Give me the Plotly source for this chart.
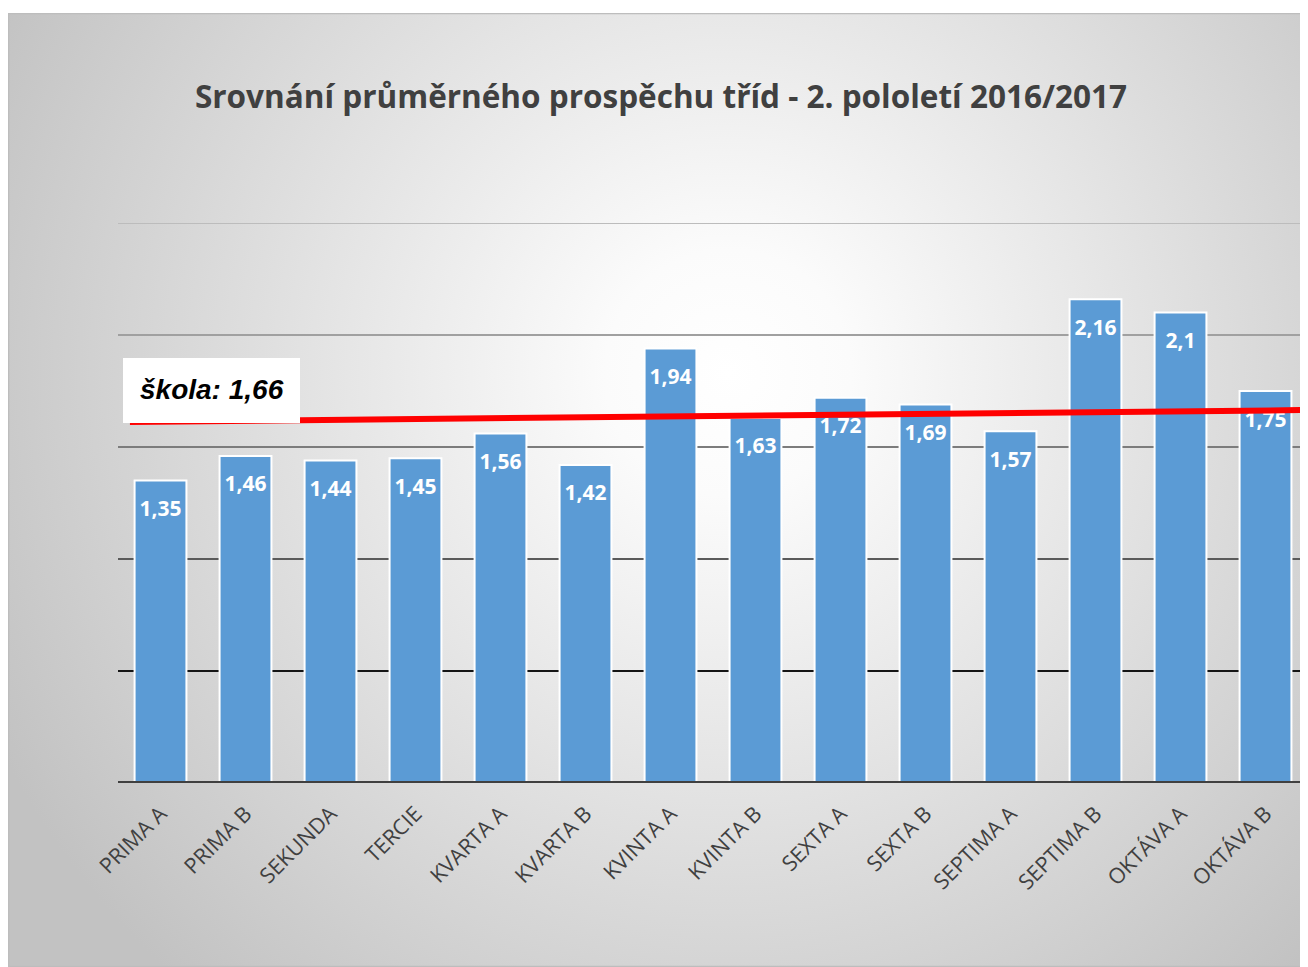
import base64
import plotly.graph_objects as go

# ---- data ----
categories = ["PRIMA A", "PRIMA B", "SEKUNDA", "TERCIE", "KVARTA A", "KVARTA B",
              "KVINTA A", "KVINTA B", "SEXTA A", "SEXTA B", "SEPTIMA A",
              "SEPTIMA B", "OKTÁVA A", "OKTÁVA B"]
averages = [1.35, 1.46, 1.44, 1.45, 1.56, 1.42, 1.94, 1.63, 1.72, 1.69, 1.57,
            2.16, 2.1, 1.75]
value_labels = ["1,35", "1,46", "1,44", "1,45", "1,56", "1,42", "1,94", "1,63",
                "1,72", "1,69", "1,57", "2,16", "2,1", "1,75"]
school_avg = 1.66
school_label = "škola: 1,66"
school_line_x = [-0.36, 13.5]
school_line_y = [1.612, 1.665]
grid_values = [0.5, 1.0, 1.5, 2.0, 2.5]
title_text = "Srovnání průměrného prospěchu tříd - 2. pololetí 2016/2017"

# ---- styles ----
grid_colors = ["#151515", "#5a5a5a", "#7c7c7c", "#a0a0a0", "#bcbcbc"]
bar_color = "#5b9bd5"

W, H = 1300, 959
ML, MR, MT, MB = 110, 0, 215, 184
plot_w = W - ML - MR
plot_h = H - MT - MB

svg = f'''<svg xmlns="http://www.w3.org/2000/svg" width="1300" height="954" viewBox="0 0 1300 954" preserveAspectRatio="none">
<defs><radialGradient id="g" gradientUnits="userSpaceOnUse" cx="720" cy="360" r="820">
<stop offset="0" stop-color="#ffffff"/><stop offset="0.15" stop-color="#fbfbfb"/>
<stop offset="1" stop-color="#c2c2c2"/></radialGradient></defs>
<rect x="0" y="0" width="1300" height="954" fill="url(#g)"/>
<rect x="0.5" y="0.5" width="1300" height="953" fill="none" stroke="#bdbdbd" stroke-width="1.5"/>
</svg>'''
bg_src = "data:image/svg+xml;base64," + base64.b64encode(svg.encode()).decode()

frame_top_px = 5
px2x = lambda px: (px - ML) / plot_w
px2y = lambda py: (MT + plot_h - py) / plot_h

xpos = list(range(len(categories)))

fig = go.Figure()

fig.add_trace(go.Bar(
    x=xpos, y=averages,
    marker=dict(color=bar_color, line=dict(color="white", width=2)),
    hoverinfo="skip", showlegend=False,
))

fig.add_trace(go.Scatter(
    x=xpos, y=averages, mode="markers+text",
    text=value_labels, textposition="bottom center",
    marker=dict(size=30, color="rgba(0,0,0,0)"),
    textfont=dict(family="Open Sans", size=21, color="white", weight="bold"),
    hoverinfo="skip", showlegend=False,
))

fig.add_trace(go.Scatter(
    x=school_line_x, y=school_line_y, mode="lines",
    line=dict(color="#ff0000", width=6),
    hoverinfo="skip", showlegend=False,
))

shapes = []
for gv, gc in zip(grid_values, grid_colors):
    shapes.append(dict(type="line", xref="paper", yref="y", x0=0, x1=1, y0=gv, y1=gv,
                       line=dict(color=gc, width=2), layer="below"))
shapes.append(dict(type="line", xref="paper", yref="y", x0=0, x1=1, y0=0, y1=0,
                   line=dict(color="#404040", width=4), layer="above"))
# label box
shapes.append(dict(type="rect", xref="paper", yref="paper",
                   x0=px2x(115), x1=px2x(292), y0=px2y(415), y1=px2y(350),
                   fillcolor="white", line=dict(width=0), layer="above"))

fig.update_layout(
    width=W, height=H,
    margin=dict(l=ML, r=MR, t=MT, b=MB),
    paper_bgcolor="white", plot_bgcolor="rgba(0,0,0,0)",
    bargap=0.39,
    title=dict(text=title_text, x=(195 - 8 + 1127 - 8) / 2 / W, xanchor="center",
               y=1 - (97 - 8) / H, yanchor="middle",
               font=dict(family="Open Sans", size=31.5, color="#404040", weight="bold")),
    xaxis=dict(range=[-0.5, 13.5], tickmode="array", tickvals=xpos, ticktext=categories,
               tickangle=-45, showgrid=False, showline=False, zeroline=False,
               ticks="", ticklabelstandoff=13,
               tickfont=dict(family="Open Sans", size=21.5, color="#404040")),
    yaxis=dict(range=[0, 2.5], showgrid=False, showticklabels=False, zeroline=False,
               showline=False),
    shapes=shapes,
    images=[dict(source=bg_src, xref="paper", yref="paper",
                 x=px2x(0), y=px2y(frame_top_px),
                 sizex=px2x(W) - px2x(0), sizey=px2y(frame_top_px) - px2y(H),
                 xanchor="left", yanchor="top", sizing="stretch", layer="below")],
    annotations=[dict(text=school_label, xref="paper", yref="paper",
                      x=px2x(204), y=px2y(381), xanchor="center", yanchor="middle",
                      showarrow=False,
                      font=dict(family="Liberation Sans", size=28, color="black",
                                weight="bold", style="italic"))],
)

fig.write_html("out.html")
